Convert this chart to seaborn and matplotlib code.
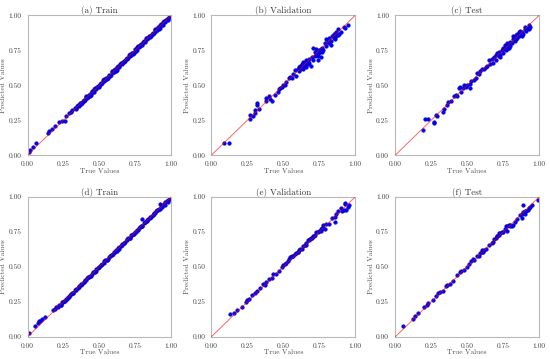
import numpy as np
import pandas as pd
import matplotlib
matplotlib.use("Agg")
import matplotlib.pyplot as plt
import seaborn as sns

# ---- data (true value, predicted value) ----
titles = ["(a) Train", "(b) Validation", "(c) Test", "(d) Train", "(e) Validation", "(f) Test"]
ticks = [0.0, 0.25, 0.5, 0.75, 1.0]

a_true = [0.01, 0.02, 0.04, 0.06, 0.14, 0.15, 0.17, 0.19, 0.22, 0.24, 0.26, 0.27, 0.29, 0.30, 0.31,
          0.33, 0.34, 0.35, 0.36, 0.37, 0.38, 0.39, 0.40, 0.41, 0.42, 0.43, 0.44, 0.45, 0.46, 0.47, 0.48,
          0.49, 0.50, 0.51, 0.52, 0.53, 0.54, 0.55, 0.56, 0.57, 0.58, 0.59, 0.60, 0.61, 0.62, 0.63, 0.64,
          0.65, 0.66, 0.67, 0.68, 0.69, 0.70, 0.71, 0.72, 0.73, 0.74, 0.75, 0.76, 0.77, 0.78, 0.79, 0.80,
          0.81, 0.82, 0.83, 0.84, 0.85, 0.86, 0.87, 0.88, 0.89, 0.90, 0.91, 0.92, 0.93, 0.94, 0.95, 0.96,
          0.97, 0.98,
          0.335, 0.345, 0.355, 0.365, 0.375, 0.385, 0.395, 0.405, 0.415, 0.425, 0.435, 0.445, 0.455, 0.465,
          0.475, 0.485, 0.495, 0.505, 0.515, 0.525, 0.535, 0.545, 0.555, 0.565, 0.575, 0.585, 0.595, 0.605,
          0.615, 0.625, 0.635, 0.645, 0.655, 0.665, 0.675, 0.685, 0.695, 0.705, 0.715, 0.725, 0.735, 0.745,
          0.755, 0.765, 0.775, 0.785, 0.795, 0.805, 0.815, 0.825, 0.835, 0.845, 0.855, 0.865, 0.875, 0.885,
          0.895, 0.905, 0.915, 0.925, 0.935, 0.945, 0.955, 0.965, 0.975, 0.985]
a_pred = [0.02, 0.04, 0.06, 0.09, 0.155, 0.17, 0.185, 0.21, 0.24, 0.245, 0.245, 0.28, 0.30, 0.31, 0.32,
          0.337, 0.335, 0.362, 0.358, 0.374, 0.372, 0.397, 0.395, 0.422, 0.418, 0.434, 0.432, 0.457, 0.455,
          0.482, 0.478, 0.494, 0.492, 0.517, 0.515, 0.542, 0.538, 0.554, 0.552, 0.577, 0.575, 0.602, 0.598,
          0.614, 0.612, 0.637, 0.635, 0.662, 0.658, 0.674, 0.672, 0.697, 0.695, 0.722, 0.718, 0.734, 0.732,
          0.757, 0.755, 0.782, 0.778, 0.794, 0.792, 0.817, 0.815, 0.842, 0.838, 0.854, 0.852, 0.877, 0.875,
          0.902, 0.898, 0.914, 0.912, 0.937, 0.935, 0.962, 0.958, 0.974, 0.972,
          0.329, 0.355, 0.352, 0.370, 0.365, 0.388, 0.389, 0.415, 0.412, 0.430, 0.425, 0.448, 0.449, 0.475,
          0.472, 0.490, 0.485, 0.508, 0.509, 0.535, 0.532, 0.550, 0.545, 0.568, 0.569, 0.595, 0.592, 0.610,
          0.605, 0.628, 0.629, 0.655, 0.652, 0.670, 0.665, 0.688, 0.689, 0.715, 0.712, 0.730, 0.725, 0.748,
          0.749, 0.775, 0.772, 0.790, 0.785, 0.808, 0.809, 0.835, 0.832, 0.850, 0.845, 0.868, 0.869, 0.895,
          0.892, 0.910, 0.905, 0.928, 0.929, 0.955, 0.952, 0.970, 0.965, 0.988]

b_true = [0.09, 0.12, 0.27, 0.27, 0.29, 0.30, 0.30, 0.32, 0.32, 0.33, 0.38, 0.38, 0.40, 0.41, 0.42,
          0.44, 0.46, 0.47, 0.48, 0.49, 0.50, 0.51, 0.52, 0.54, 0.55, 0.56, 0.57, 0.58, 0.59, 0.60, 0.61,
          0.61, 0.62, 0.62, 0.63, 0.63, 0.64, 0.64, 0.65, 0.65, 0.66, 0.66, 0.67, 0.67, 0.68, 0.68, 0.69,
          0.70, 0.71, 0.72, 0.72, 0.73, 0.73, 0.74, 0.74, 0.75, 0.75, 0.76, 0.76, 0.77, 0.77, 0.78, 0.79,
          0.80, 0.80, 0.81, 0.82, 0.82, 0.83, 0.83, 0.84, 0.85, 0.85, 0.86, 0.86, 0.87, 0.87, 0.88, 0.88,
          0.89, 0.90, 0.92, 0.93, 0.95, 0.71, 0.74, 0.63, 0.66, 0.64]
b_pred = [0.09, 0.09, 0.26, 0.29, 0.28, 0.30, 0.32, 0.36, 0.37, 0.33, 0.39, 0.41, 0.42, 0.40, 0.39,
          0.43, 0.45, 0.47, 0.48, 0.49, 0.50, 0.50, 0.52, 0.55, 0.56, 0.55, 0.58, 0.61, 0.57, 0.62, 0.63,
          0.60, 0.64, 0.62, 0.65, 0.63, 0.62, 0.67, 0.64, 0.66, 0.68, 0.63, 0.67, 0.65, 0.66, 0.69, 0.64,
          0.70, 0.68, 0.71, 0.74, 0.72, 0.76, 0.73, 0.71, 0.75, 0.73, 0.76, 0.70, 0.74, 0.77, 0.75, 0.80,
          0.78, 0.83, 0.81, 0.80, 0.84, 0.82, 0.79, 0.85, 0.84, 0.87, 0.86, 0.83, 0.88, 0.85, 0.86, 0.90,
          0.87, 0.88, 0.92, 0.91, 0.93, 0.77, 0.68, 0.64, 0.66, 0.65]

c_true = [0.19, 0.21, 0.23, 0.27, 0.27, 0.28, 0.29, 0.33, 0.34, 0.36, 0.37, 0.39, 0.41, 0.42, 0.43,
          0.44, 0.45, 0.46, 0.47, 0.48, 0.49, 0.50, 0.52, 0.52, 0.53, 0.55, 0.56, 0.57, 0.58, 0.59, 0.60,
          0.62, 0.63, 0.64, 0.65, 0.66, 0.67, 0.68, 0.69, 0.70, 0.70, 0.71, 0.72, 0.72, 0.73, 0.73, 0.74,
          0.75, 0.75, 0.76, 0.76, 0.77, 0.77, 0.78, 0.78, 0.79, 0.79, 0.80, 0.80, 0.81, 0.82, 0.82, 0.83,
          0.83, 0.84, 0.84, 0.85, 0.85, 0.86, 0.86, 0.87, 0.87, 0.88, 0.88, 0.89, 0.90, 0.90, 0.91, 0.92,
          0.93, 0.93, 0.94]
c_pred = [0.18, 0.26, 0.26, 0.24, 0.23, 0.29, 0.28, 0.31, 0.33, 0.36, 0.38, 0.39, 0.42, 0.43, 0.42,
          0.48, 0.49, 0.45, 0.48, 0.50, 0.49, 0.50, 0.48, 0.51, 0.53, 0.54, 0.55, 0.59, 0.58, 0.60, 0.62,
          0.62, 0.63, 0.64, 0.68, 0.65, 0.69, 0.66, 0.70, 0.72, 0.68, 0.73, 0.71, 0.74, 0.72, 0.70, 0.75,
          0.73, 0.77, 0.76, 0.79, 0.75, 0.78, 0.76, 0.80, 0.77, 0.79, 0.81, 0.78, 0.80, 0.83, 0.85, 0.82,
          0.84, 0.86, 0.83, 0.84, 0.87, 0.88, 0.85, 0.86, 0.89, 0.88, 0.85, 0.87, 0.90, 0.92, 0.89, 0.91,
          0.93, 0.90, 0.92]

d_true = [0.01, 0.05, 0.07, 0.08, 0.09, 0.10, 0.12, 0.18, 0.19, 0.20, 0.21, 0.80, 0.92,
          0.22, 0.23, 0.24, 0.25, 0.26, 0.27, 0.28, 0.29, 0.30, 0.31, 0.32, 0.33, 0.34, 0.35, 0.36, 0.37,
          0.38, 0.39, 0.40, 0.41, 0.42, 0.43, 0.44, 0.45, 0.46, 0.47, 0.48, 0.49, 0.50, 0.51, 0.52, 0.53,
          0.54, 0.55, 0.56, 0.57, 0.58, 0.59, 0.60, 0.61, 0.62, 0.63, 0.64, 0.65, 0.66, 0.67, 0.68, 0.69,
          0.70, 0.71, 0.72, 0.73, 0.74, 0.75, 0.76, 0.77, 0.78, 0.79, 0.80, 0.81, 0.82, 0.83, 0.84, 0.85,
          0.86, 0.87, 0.88, 0.89, 0.90, 0.91, 0.92, 0.93, 0.94, 0.95, 0.96, 0.97, 0.98, 0.99,
          0.235, 0.255, 0.275, 0.295, 0.315, 0.335, 0.355, 0.375, 0.395, 0.415, 0.435, 0.455, 0.475, 0.495,
          0.515, 0.535, 0.555, 0.575, 0.595, 0.615, 0.635, 0.655, 0.675, 0.695, 0.715, 0.735, 0.755, 0.775,
          0.795, 0.815, 0.835, 0.855, 0.875, 0.895, 0.915, 0.935, 0.955, 0.975, 0.995]
d_pred = [0.03, 0.08, 0.10, 0.11, 0.115, 0.13, 0.14, 0.19, 0.20, 0.21, 0.215, 0.84, 0.95,
          0.224, 0.227, 0.246, 0.250, 0.256, 0.272, 0.284, 0.287, 0.306, 0.310, 0.316, 0.332, 0.344, 0.347,
          0.366, 0.370, 0.376, 0.392, 0.404, 0.407, 0.426, 0.430, 0.436, 0.452, 0.464, 0.467, 0.486, 0.490,
          0.496, 0.512, 0.524, 0.527, 0.546, 0.550, 0.556, 0.572, 0.584, 0.587, 0.606, 0.610, 0.616, 0.632,
          0.644, 0.647, 0.666, 0.670, 0.676, 0.692, 0.704, 0.707, 0.726, 0.730, 0.736, 0.752, 0.764, 0.767,
          0.786, 0.790, 0.796, 0.812, 0.824, 0.827, 0.846, 0.850, 0.856, 0.872, 0.884, 0.887, 0.906, 0.910,
          0.916, 0.932, 0.944, 0.947, 0.966, 0.970, 0.976, 0.992,
          0.230, 0.258, 0.273, 0.300, 0.310, 0.338, 0.353, 0.380, 0.390, 0.418, 0.433, 0.460, 0.470, 0.498,
          0.513, 0.540, 0.550, 0.578, 0.593, 0.620, 0.630, 0.658, 0.673, 0.700, 0.710, 0.738, 0.753, 0.780,
          0.790, 0.818, 0.833, 0.860, 0.870, 0.898, 0.913, 0.930, 0.945, 0.965, 0.985]

e_true = [0.13, 0.16, 0.18, 0.21, 0.24, 0.25, 0.26, 0.28, 0.30, 0.32, 0.34, 0.36, 0.37, 0.38, 0.40,
          0.42, 0.43, 0.45, 0.47, 0.49, 0.50, 0.51, 0.52, 0.53, 0.54, 0.55, 0.56, 0.57, 0.58, 0.59, 0.60,
          0.61, 0.62, 0.63, 0.64, 0.65, 0.66, 0.67, 0.68, 0.69, 0.70, 0.71, 0.72, 0.73, 0.74, 0.75, 0.76,
          0.77, 0.78, 0.78, 0.79, 0.80, 0.82, 0.84, 0.86, 0.86, 0.87, 0.88, 0.90, 0.91, 0.92, 0.93, 0.93,
          0.94, 0.95, 0.96, 0.555, 0.605, 0.655, 0.685, 0.715, 0.765]
e_pred = [0.16, 0.17, 0.19, 0.21, 0.25, 0.26, 0.27, 0.30, 0.31, 0.33, 0.35, 0.38, 0.37, 0.39, 0.41,
          0.42, 0.45, 0.45, 0.47, 0.50, 0.51, 0.52, 0.53, 0.54, 0.56, 0.57, 0.58, 0.58, 0.59, 0.60, 0.61,
          0.62, 0.63, 0.63, 0.65, 0.66, 0.67, 0.69, 0.69, 0.71, 0.71, 0.72, 0.73, 0.75, 0.75, 0.76, 0.76,
          0.78, 0.80, 0.78, 0.77, 0.81, 0.81, 0.85, 0.86, 0.82, 0.88, 0.90, 0.92, 0.90, 0.91, 0.95, 0.96,
          0.91, 0.93, 0.94, 0.57, 0.61, 0.66, 0.70, 0.72, 0.77]

f_true = [0.05, 0.12, 0.14, 0.16, 0.20, 0.22, 0.23, 0.26, 0.28, 0.30, 0.31, 0.33, 0.35, 0.36, 0.38,
          0.40, 0.43, 0.45, 0.46, 0.48, 0.50, 0.51, 0.53, 0.54, 0.55, 0.57, 0.58, 0.59, 0.60, 0.61, 0.62,
          0.63, 0.65, 0.67, 0.68, 0.69, 0.70, 0.71, 0.72, 0.73, 0.74, 0.75, 0.76, 0.77, 0.78, 0.79, 0.80,
          0.81, 0.82, 0.83, 0.85, 0.87, 0.88, 0.88, 0.89, 0.89, 0.90, 0.91, 0.92, 0.93, 0.94, 0.95, 0.99,
          0.605, 0.705, 0.725, 0.775, 0.795, 0.905]
f_pred = [0.08, 0.13, 0.15, 0.17, 0.21, 0.23, 0.24, 0.26, 0.29, 0.31, 0.32, 0.33, 0.36, 0.37, 0.38,
          0.40, 0.44, 0.46, 0.47, 0.48, 0.50, 0.52, 0.54, 0.56, 0.55, 0.58, 0.58, 0.60, 0.61, 0.61, 0.62,
          0.63, 0.66, 0.67, 0.68, 0.70, 0.71, 0.72, 0.73, 0.74, 0.75, 0.75, 0.77, 0.79, 0.79, 0.80, 0.80,
          0.79, 0.80, 0.82, 0.84, 0.87, 0.88, 0.85, 0.94, 0.89, 0.88, 0.90, 0.91, 0.92, 0.93, 0.94, 0.98,
          0.62, 0.72, 0.74, 0.76, 0.79, 0.90]

panels = [(a_true, a_pred), (b_true, b_pred), (c_true, c_pred),
          (d_true, d_pred), (e_true, e_pred), (f_true, f_pred)]

sns.set_style("white")
plt.rcParams["font.family"] = "serif"
plt.rcParams["font.serif"] = ["cmr10", "DejaVu Serif"]
plt.rcParams["mathtext.fontset"] = "cm"
plt.rcParams["axes.formatter.use_mathtext"] = True

fig, axes = plt.subplots(2, 3, figsize=(5.5, 3.59), dpi=100)
fig.subplots_adjust(left=0.05, right=0.98, bottom=0.062, top=0.957, wspace=0.28, hspace=0.30)

for ax, title, (t, p) in zip(axes.flat, titles, panels):
    df = pd.DataFrame({"true": t, "pred": p})
    sns.scatterplot(data=df, x="true", y="pred", ax=ax, color="blue", s=7,
                    edgecolor="#0000aa", linewidth=0.3, zorder=2)
    ax.plot([0, 1], [0, 1], color="red", lw=0.7, alpha=0.6, zorder=3)
    ax.set_xlim(0, 1)
    ax.set_ylim(0, 1)
    ax.set_xticks(ticks)
    ax.set_yticks(ticks)
    ax.set_xticklabels([f"{v:.2f}" for v in ticks])
    ax.set_yticklabels([f"{v:.2f}" for v in ticks])
    ax.tick_params(labelsize=5.3, pad=1, colors="0.25")
    ax.set_title(title, fontsize=6.5, pad=1.5, color="0.2")
    ax.set_xlabel("True Values", fontsize=5.3, labelpad=0.5, color="0.3")
    ax.set_ylabel("Predicted Values", fontsize=5.3, labelpad=1.5, color="0.3")
    for sp in ax.spines.values():
        sp.set_color("0.72")
        sp.set_linewidth(0.8)

fig.savefig("out.png", dpi=100)
